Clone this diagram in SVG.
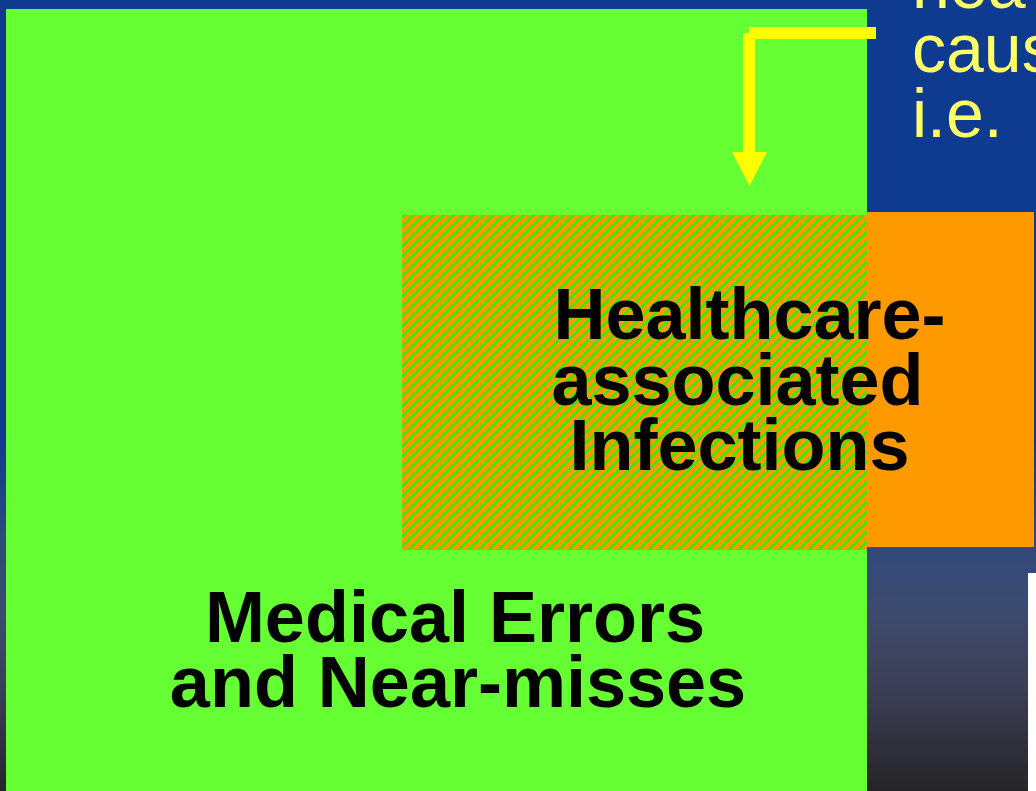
<svg xmlns="http://www.w3.org/2000/svg" width="1036" height="791" viewBox="0 0 1036 791">
<defs>
<linearGradient id="bg" x1="0" y1="0" x2="0" y2="791" gradientUnits="userSpaceOnUse">
<stop offset="0" stop-color="#0e3a8f"/>
<stop offset="0.55" stop-color="#0e3a8f"/>
<stop offset="0.68" stop-color="#2f4a7e"/>
<stop offset="0.78" stop-color="#3d4a6c"/>
<stop offset="0.87" stop-color="#3c3e55"/>
<stop offset="1" stop-color="#252528"/>
</linearGradient>
<pattern id="hatch" patternUnits="userSpaceOnUse" x="402" y="215" width="10" height="10">
<rect width="10" height="10" fill="#ff9900"/>
<polygon points="10,0 0,10 3.2,10 10,3.2" fill="#11ff00"/>
<polygon points="0,0 3.2,0 0,3.2" fill="#11ff00"/>
</pattern>
<style>
.big{font-family:"Liberation Sans",Arial,sans-serif;font-weight:bold;font-size:72px;fill:#000;text-anchor:middle}
.note{font-family:"Liberation Sans",Arial,sans-serif;font-size:68px;fill:#ffff66}
.arrow{stroke:#ffff00;stroke-width:12;fill:none;stroke-linecap:butt}
</style>
</defs>
<rect x="0" y="0" width="1036" height="791" fill="url(#bg)"/>
<g id="medical-errors">
<rect x="6" y="9" width="861" height="782" fill="#66ff33"/>
<text class="big"><tspan x="455" y="642">Medical Errors</tspan><tspan x="458" y="707">and Near-misses</tspan></text>
</g>
<g id="hai">
<rect x="867" y="212" width="167" height="335" fill="#ff9900"/>
<rect x="402" y="215" width="465" height="335" fill="url(#hatch)"/>
<text class="big"><tspan x="749.5" y="339">Healthcare-</tspan><tspan x="737.5" y="405">associated</tspan><tspan x="739.5" y="470">Infections</tspan></text>
</g>
<g id="note">
<text class="note"><tspan x="912" y="8">hea</tspan><tspan x="912" y="72">caus</tspan><tspan x="912" y="137">i.e.</tspan></text>
</g>
<rect x="1028" y="573" width="8" height="218" fill="#ffffff"/>
<g id="connectors">
<line class="arrow" x1="876" y1="33" x2="749" y2="33"/>
<line class="arrow" x1="749" y1="33" x2="749" y2="154"/>
<polygon points="732,152 767,152 749.5,186" fill="#ffff00"/>
</g>
</svg>
